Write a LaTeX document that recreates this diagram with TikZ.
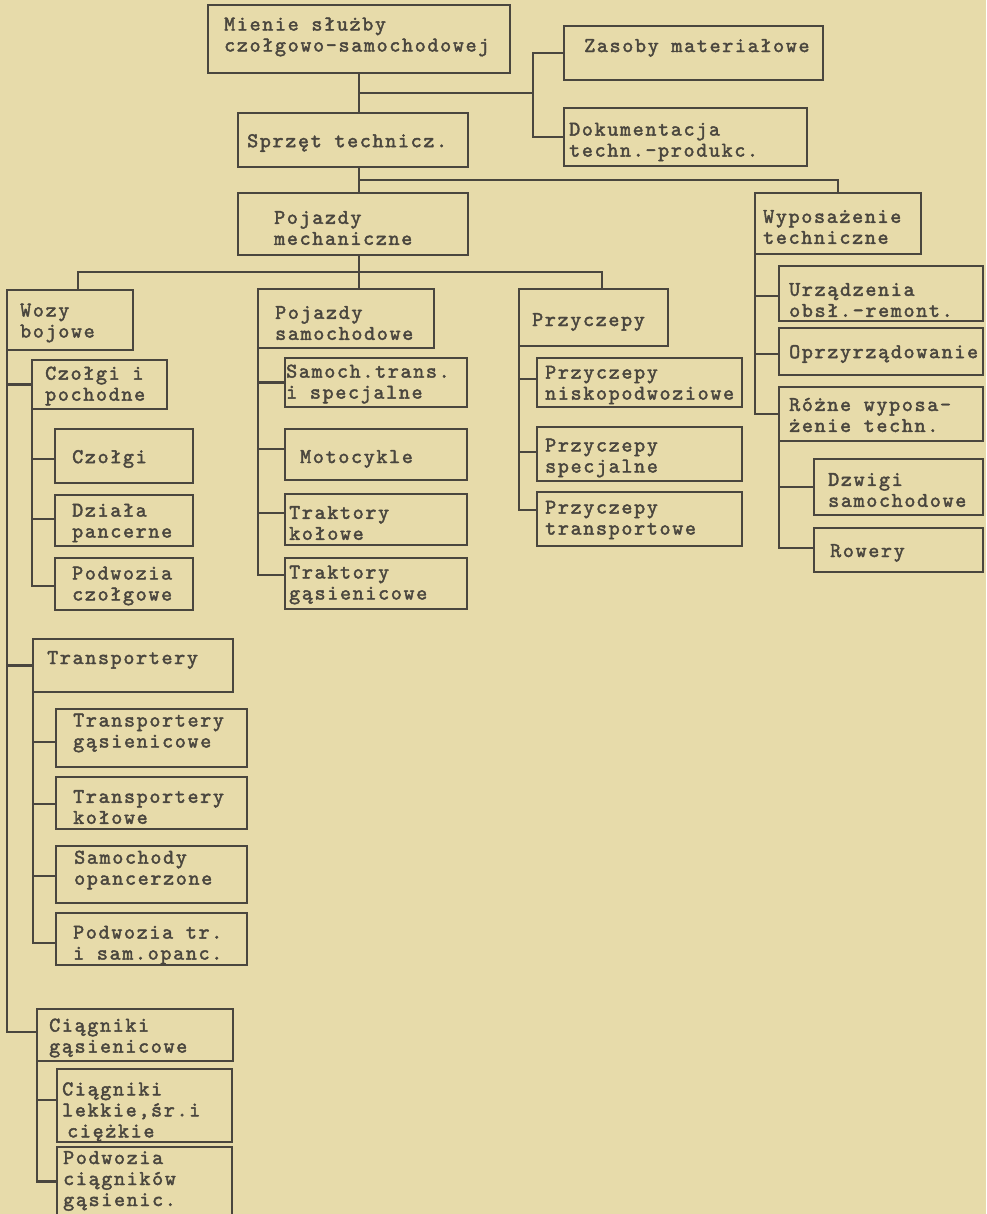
\documentclass[tikz,border=0pt]{standalone}
\usepackage{fontspec}
\newfontfamily\twfont{lmmono10-regular.otf}[LetterSpace=8,FakeBold=2]
\definecolor{paper}{HTML}{E7DBAA}
\definecolor{ink}{HTML}{4A463E}
\newcommand\lblfont{\twfont\fontsize{21}{21}\selectfont}
\tikzset{
  orgbox/.style={draw=ink, line width=2.2pt, inner sep=0pt, outer sep=0pt},
  lbl/.style={anchor=west, align=left, inner sep=0pt, text=ink, font=\lblfont},
  conn/.style={draw=ink, line width=2.2pt}
}
\newcommand\obox[5]{\node[orgbox, minimum width={(#4-#2)*1pt}, minimum height={(#5-#3)*1pt}] (#1) at ({(#2+#4)/2},{(#3+#5)/2}) {};}
\newcommand\olbl[4]{\node[lbl] (#1) at (#2,#3) {#4};}
\begin{document}
\begin{tikzpicture}[x=1pt,y=-1pt]
\useasboundingbox (0,0) rectangle (986,1214);
\fill[paper] (0,0) rectangle (986,1214);
% ---- boxes
\obox{mienie}{208}{5}{510}{73}
\obox{zasoby}{564}{26}{823}{80}
\obox{dok}{564}{108}{807}{166}
\obox{sprzet}{238}{113}{468}{167}
\obox{pojm}{238}{193}{468}{255}
\obox{wypos}{755}{193}{921}{254}
\obox{wozy}{7}{290}{133}{350}
\obox{pojs}{258}{289}{434}{348}
\obox{przy}{519}{289}{668}{346}
\obox{czp}{32}{360}{167}{409}
\obox{czolgi}{55}{429}{193}{483}
\obox{dzialo}{55}{495}{193}{546}
\obox{podcz}{55}{558}{193}{610}
\obox{samtr}{285}{358}{467}{407}
\obox{moto}{285}{429}{467}{480}
\obox{trk}{285}{494}{467}{545}
\obox{trg}{285}{558}{467}{609}
\obox{nisko}{537}{358}{742}{407}
\obox{pspec}{537}{427}{742}{481}
\obox{ptrans}{537}{492}{742}{546}
\obox{urz}{779}{266}{983}{321}
\obox{oprz}{779}{328}{983}{375}
\obox{rozne}{779}{387}{983}{441}
\obox{dzwigi}{814}{459}{983}{515}
\obox{rowery}{814}{528}{983}{572}
\obox{trans}{33}{639}{233}{692}
\obox{tgas}{56}{709}{247}{767}
\obox{tkol}{56}{777}{247}{829}
\obox{samop}{56}{846}{247}{903}
\obox{podtr}{56}{913}{247}{965}
\obox{ciag}{37}{1009}{233}{1061}
\obox{clek}{57}{1069}{232}{1142}
\obox{podcg}{57}{1147}{232}{1216}
% ---- labels
\olbl{mienie-t}{224}{37}{Mienie służby\\czołgowo-samochodowej}
\olbl{zasoby-t}{584}{48}{Zasoby materiałowe}
\olbl{dok-t}{569}{142}{Dokumentacja\\techn.-produkc.}
\olbl{sprzet-t}{247}{143}{Sprzęt technicz.}
\olbl{pojm-t}{274}{228}{Pojazdy\\mechaniczne}
\olbl{wypos-t}{763}{227}{Wyposażenie\\techniczne}
\olbl{wozy-t}{20}{323}{Wozy\\bojowe}
\olbl{pojs-t}{275}{323}{Pojazdy\\samochodowe}
\olbl{przy-t}{532}{322}{Przyczepy}
\olbl{czp-t}{45}{386}{Czołgi i\\pochodne}
\olbl{czolgi-t}{72}{459}{Czołgi}
\olbl{dzialo-t}{72}{523}{Działa\\pancerne}
\olbl{podcz-t}{72}{586}{Podwozia\\czołgowe}
\olbl{samtr-t}{286}{384}{Samoch.trans.\\i specjalne}
\olbl{moto-t}{300}{459}{Motocykle}
\olbl{trk-t}{289}{523}{Traktory\\kołowe}
\olbl{trg-t}{289}{585}{Traktory\\gąsienicowe}
\olbl{nisko-t}{545}{385}{Przyczepy\\niskopodwoziowe}
\olbl{pspec-t}{545}{458}{Przyczepy\\specjalne}
\olbl{ptrans-t}{545}{520}{Przyczepy\\transportowe}
\olbl{urz-t}{789}{300}{Urządzenia\\obsł.-remont.}
\olbl{oprz-t}{789}{354}{Oprzyrządowanie}
\olbl{rozne-t}{789}{415}{Różne wyposa-\\żenie techn.}
\olbl{dzwigi-t}{828}{490}{Dzwigi\\samochodowe}
\olbl{rowery-t}{830}{553}{Rowery}
\olbl{trans-t}{47}{660}{Transportery}
\olbl{tgas-t}{73}{733}{Transportery\\gąsienicowe}
\olbl{tkol-t}{73}{807}{Transportery\\kołowe}
\olbl{samop-t}{74}{870}{Samochody\\opancerzone}
\olbl{podtr-t}{73}{945}{Podwozia tr.\\i sam.opanc.}
\olbl{ciag-t}{49}{1038}{Ciągniki\\gąsienicowe}
\olbl{clek-t}{62}{1112}{Ciągniki\\lekkie,śr.i\\\hspace{5pt}ciężkie}
\olbl{podcg-t}{63}{1181}{Podwozia\\ciągników\\gąsienic.}
% ---- connectors
\coordinate (j1) at (533,93);
\coordinate (j2) at (359,180);
\coordinate (j3) at (359,272);
\draw[conn] (mienie.south) -- (mienie.south |- sprzet.north);
\draw[conn] (mienie.south |- j1) -- (j1);
\draw[conn] (zasoby.west) -| (j1);
\draw[conn] (dok.west) -| (j1);
\draw[conn] (j2 |- sprzet.south) -- (j2 |- pojm.north);
\draw[conn] (j2) -| (wypos.north);
\draw[conn] (j3 |- pojm.south) -- (j3 |- pojs.north);
\draw[conn] ([xshift=8pt]wozy.north) |- (j3) -| ([xshift=8.5pt]przy.north);
% Wozy bojowe
\draw[conn] (wozy.south west) |- (czp.west);
\draw[conn] (wozy.south west) |- (trans.west);
\draw[conn] (wozy.south west) |- ([yshift=3pt]ciag.west);
\draw[conn] (czp.south west) |- ([yshift=-3pt]czolgi.west);
\draw[conn] (czp.south west) |- ([yshift=1.5pt]dzialo.west);
\draw[conn] (czp.south west) |- ([yshift=-2pt]podcz.west);
\draw[conn] (trans.south west) |- ([yshift=-4pt]tgas.west);
\draw[conn] (trans.south west) |- ([yshift=-1pt]tkol.west);
\draw[conn] (trans.south west) |- ([yshift=-1.5pt]samop.west);
\draw[conn] (trans.south west) |- ([yshift=-4pt]podtr.west);
\draw[conn] (ciag.south west) |- ([yshift=5.5pt]clek.west);
\draw[conn] (ciag.south west) |- (podcg.west);
% Pojazdy samochodowe
\draw[conn] (pojs.south west) |- (samtr.west);
\draw[conn] (pojs.south west) |- ([yshift=5.5pt]moto.west);
\draw[conn] (pojs.south west) |- ([yshift=6.5pt]trk.west);
\draw[conn] (pojs.south west) |- ([yshift=8.5pt]trg.west);
% Przyczepy
\draw[conn] (przy.south west) |- ([yshift=3.5pt]nisko.west);
\draw[conn] (przy.south west) |- ([yshift=2pt]pspec.west);
\draw[conn] (przy.south west) |- ([yshift=9pt]ptrans.west);
% Wyposazenie
\draw[conn] (wypos.south west) |- ([yshift=-2.5pt]urz.west);
\draw[conn] (wypos.south west) |- ([yshift=-2.5pt]oprz.west);
\draw[conn] (wypos.south west) |- (rozne.west);
\draw[conn] (rozne.south west) |- (dzwigi.west);
\draw[conn] (rozne.south west) |- ([yshift=2pt]rowery.west);
\end{tikzpicture}
\end{document}
